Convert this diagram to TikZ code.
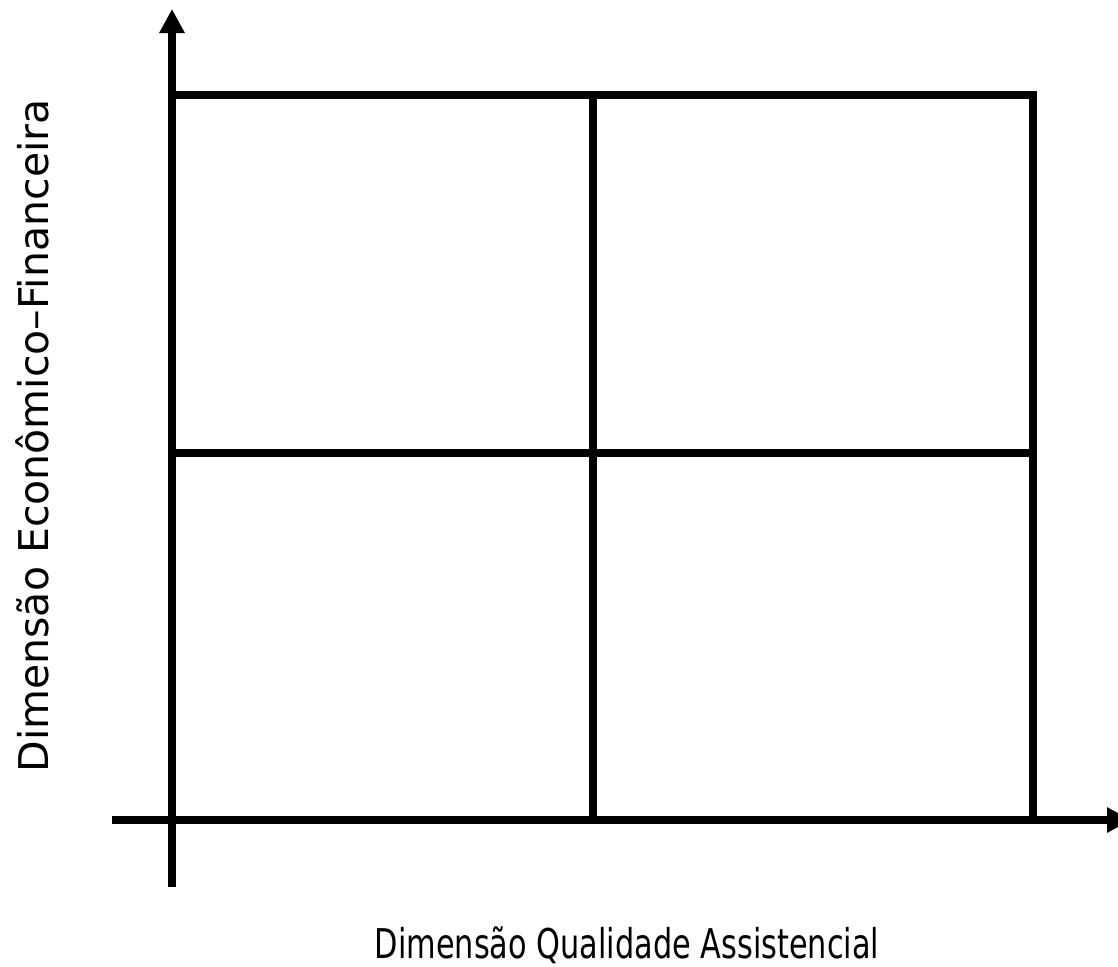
\documentclass[tikz,border=0pt]{standalone}
\usepackage{fontspec}
\setmainfont{DejaVu Sans}
\usetikzlibrary{arrows.meta,positioning}
\tikzset{
  >={Triangle[length=12pt,width=12pt]},
  axis/.style={->, line width=4.3pt, draw=black},
  grid/.style={line width=4pt, draw=black, line cap=rect},
  axlabel/.style={font=\fontsize{20.5}{24}\selectfont, inner sep=0pt},
}
\begin{document}
\begin{tikzpicture}[x=0.5pt,y=-0.5pt]
  \useasboundingbox (0,0) rectangle (1118,966);
  % axes
  \coordinate (ybot) at (172,887);
  \coordinate (ytop) at (172,9);
  \coordinate (xleft) at (112,820);
  \coordinate (xright) at (1131,820);
  % quadrant corners
  \coordinate (tl) at (172,95);
  \coordinate (tm) at (593,95);
  \coordinate (tr) at (1033,95);
  \coordinate (ml) at (172,453);
  \coordinate (mr) at (1033,453);
  \coordinate (bm) at (593,820);
  \coordinate (br) at (1033,820);

  \draw[grid] (tl) -- (tr) -- (br);
  \draw[grid] (tm) -- (bm);
  \draw[grid] (ml) -- (mr);
  \draw[axis] (ybot) -- (ytop);
  \draw[axis] (xleft) -- (xright);

  \node[axlabel, anchor=base] (xlab) at (627,958)
    {\scalebox{0.74}[1]{Dimensão Qualidade Assistencial}};
  \node[axlabel, anchor=base, rotate=90] (ylab) at (48,436) {Dimensão Econômico–Financeira};
\end{tikzpicture}
\end{document}
